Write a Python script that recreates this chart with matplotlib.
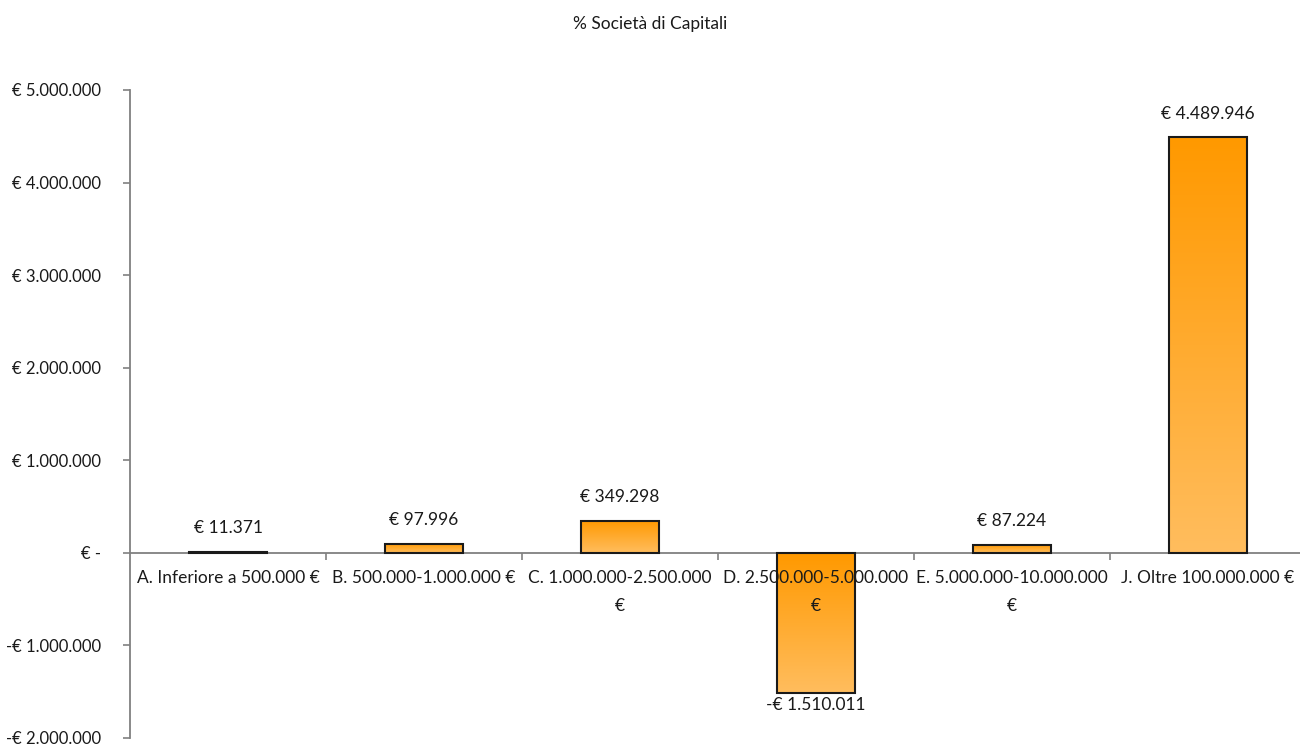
import numpy as np
import matplotlib
matplotlib.use("Agg")
import matplotlib.pyplot as plt
from matplotlib.colors import LinearSegmentedColormap
from matplotlib.ticker import FuncFormatter, FixedLocator

plt.rcParams['font.family'] = ['Lato', 'DejaVu Sans']

categories = [
    "A. Inferiore a 500.000 €",
    "B. 500.000-1.000.000 €",
    "C. 1.000.000-2.500.000\n€",
    "D. 2.500.000-5.000.000\n€",
    "E. 5.000.000-10.000.000\n€",
    "J. Oltre 100.000.000 €",
]
values = [11371, 97996, 349298, -1510011, 87224, 4489946]
title = "% Società di Capitali"


def euro(v):
    if v == 0:
        return "€ -"
    s = f"{abs(int(round(v))):,}".replace(",", ".")
    return ("-€ " if v < 0 else "€ ") + s


fig = plt.figure(figsize=(13, 7.46), dpi=100)
ax = fig.add_axes([130 / 1300, 1 - 738 / 746, 1176 / 1300, (738 - 90) / 746])

# vertical orange gradient: deep at the top, lighter at the bottom
grad = LinearSegmentedColormap.from_list("bar", ["#FFBD5E", "#FF9900"])
gimg = np.linspace(0, 1, 256).reshape(-1, 1)

width = 0.4
x = np.arange(len(categories))
bars = ax.bar(x, values, width=width, facecolor="none", edgecolor="#1a1a1a",
              linewidth=1.5, zorder=3)
for b, v in zip(bars, values):
    x0 = b.get_x()
    lo, hi = min(0, v), max(0, v)
    im = ax.imshow(gimg, cmap=grad, origin="lower", aspect="auto",
                   extent=(x0, x0 + width, lo, hi), zorder=2,
                   interpolation="bilinear")
    im.set_clip_path(b)

ax.set_xlim(-0.5, len(categories) - 0.5)
ax.set_ylim(-2_000_000, 5_000_000)

# value labels
fs = 12.5
for xi, v in zip(x, values):
    if v >= 0:
        ax.annotate(euro(v), (xi, v), xytext=(0, 17), textcoords="offset points",
                    ha="center", va="center", fontsize=fs, color="#1a1a1a")
    else:
        ax.annotate(euro(v), (xi, v), xytext=(0, -9), textcoords="offset points",
                    ha="center", va="center", fontsize=fs, color="#1a1a1a")

# axes styling
for s in ["top", "right"]:
    ax.spines[s].set_visible(False)
ax.spines["bottom"].set_position(("data", 0))
ax.spines["bottom"].set_color("#808080")
ax.spines["left"].set_color("#808080")
ax.spines["bottom"].set_linewidth(1.3)
ax.spines["left"].set_linewidth(1.3)

ax.yaxis.set_major_locator(FixedLocator(np.arange(-2_000_000, 5_000_001, 1_000_000)))
ax.yaxis.set_major_formatter(FuncFormatter(lambda v, p: euro(v)))
ax.tick_params(axis="y", direction="out", length=5, width=1.2, color="#808080",
               pad=16, labelsize=12, labelcolor="#1a1a1a")

ax.set_xticks(x)
ax.set_xticklabels(categories, fontsize=12.5, color="#1a1a1a", linespacing=1.95)
ax.tick_params(axis="x", which="major", length=0, pad=12)
ax.set_xticks(np.arange(0.5, len(categories) - 0.5, 1), minor=True)
ax.tick_params(axis="x", which="minor", direction="out", length=5, width=1.2,
               color="#808080")
for lbl in ax.get_xticklabels():
    lbl.set_verticalalignment("top")
# category names sit above the bars
ax.xaxis.set_zorder(5)

fig.text(0.5, 1 - 24 / 746, title, ha="center", va="center", fontsize=12.5,
         color="#1a1a1a")

fig.savefig("out.png", dpi=100)
